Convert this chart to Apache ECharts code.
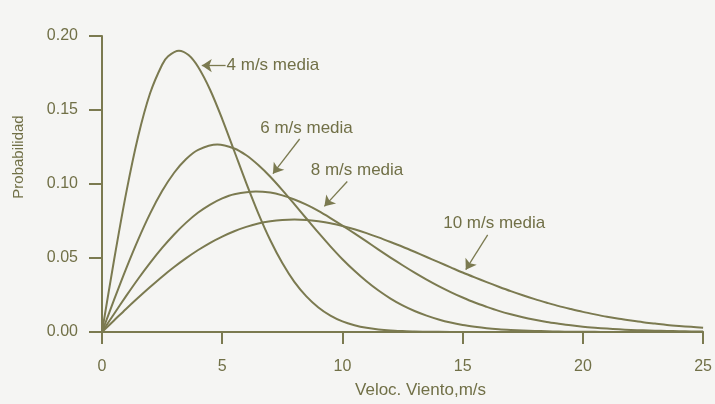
<!DOCTYPE html>
<html>
<head>
<meta charset="utf-8">
<script src="https://cdn.jsdelivr.net/npm/echarts@6/dist/echarts.min.js"></script>
<style>
html,body{margin:0;padding:0;background:#f5f5f3;}
#c{width:715px;height:404px;}
</style>
</head>
<body>
<div id="c"></div>
<script>
// Wind speed samples (m/s) for each curve, and the probability read at each sample
var speeds4  = [0,0.5,1,1.5,2,2.5,2.75,3.2,3.6,4,4.5,5,5.5,6,6.5,7,7.5,8,8.5,9,9.5,10,10.5,11,11.5,12,12.5,13,13.5,14,15,20,25];
var media4   = [0,0.0485,0.0935,0.1319,0.1613,0.1806,0.1863,0.1901,0.1871,0.1790,0.1635,0.1439,0.1223,0.1006,0.0802,0.0620,0.0466,
                0.0339,0.0241,0.0166,0.0111,0.0072,0.0046,0.0028,0.0017,0.0010,0.0006,0.0003,0.0002,0.0001,0,0,0];
var speeds6  = [0,0.5,1,1.5,2,2.5,3,3.5,4,4.8,5.5,6,6.5,7,7.5,8,8.5,9,9.5,10,10.5,11,11.5,12,12.5,13,13.5,14,14.5,
                15,15.5,16,16.5,17,17.5,18,18.5,19,19.5,20,20.5,21,25];
var media6   = [0,0.0217,0.0427,0.0623,0.0800,0.0952,0.1076,0.1169,0.1231,0.1267,0.1240,0.1194,0.1128,0.1049,0.0959,
                0.0864,0.0767,0.0671,0.0579,0.0492,0.0414,0.0343,0.0280,0.0226,0.0180,0.0142,0.0111,0.0085,0.0064,
                0.0048,0.0036,0.0026,0.0019,0.0014,0.0010,0.0007,0.0005,0.0003,0.0002,0.0001,0.0001,0,0];
var speeds8  = [0,0.5,1,1.5,2,2.5,3,3.5,4,4.5,5,5.5,6.4,7,7.5,8,8.5,9,9.5,10,10.5,11,11.5,12,12.5,13,13.5,14,14.5,
                15,15.5,16,16.5,17,17.5,18,18.5,19,19.5,20,20.5,21,21.5,22,22.5,23,23.5,24,24.5,25];
var media8   = [0,0.0122,0.0242,0.0358,0.0467,0.0568,0.0659,0.0739,0.0807,0.0861,0.0903,0.0931,0.0950,0.0942,0.0923,
                0.0895,0.0860,0.0818,0.0770,0.0719,0.0666,0.0612,0.0557,0.0503,0.0451,0.0401,0.0354,0.0310,0.0270,
                0.0233,0.0199,0.0170,0.0143,0.0120,0.0100,0.0083,0.0068,0.0056,0.0045,0.0036,0.0029,0.0023,0.0018,
                0.0014,0.0011,0.0009,0.0007,0.0005,0.0004,0.0003];
var speeds10 = [0,0.5,1,1.5,2,2.5,3,3.5,4,4.5,5,5.5,6,6.5,7,7.5,8,8.5,9,9.5,10,10.5,11,11.5,12,12.5,13,13.5,14,14.5,
                15,15.5,16,16.5,17,17.5,18,18.5,19,19.5,20,20.5,21,21.5,22,22.5,23,23.5,24,24.5,25];
var media10  = [0,0.0078,0.0156,0.0231,0.0304,0.0374,0.0439,0.0499,0.0554,0.0603,0.0645,0.0681,0.0710,0.0733,0.0748,
                0.0757,0.0760,0.0757,0.0748,0.0735,0.0716,0.0694,0.0668,0.0639,0.0608,0.0576,0.0542,0.0507,0.0472,
                0.0437,0.0402,0.0369,0.0337,0.0306,0.0276,0.0248,0.0222,0.0198,0.0175,0.0155,0.0136,0.0119,0.0103,
                0.0089,0.0077,0.0066,0.0057,0.0048,0.0041,0.0035,0.0029];
var yTicks = [0, 0.05, 0.10, 0.15, 0.20];
var xTicks = [0, 5, 10, 15, 20, 25];
var labels = ['4 m/s media','6 m/s media','8 m/s media','10 m/s media'];
// annotation anchors (data coords): text position, arrow start, arrow tip
var labelPos   = [[5.18,0.180],[6.58,0.1378],[8.68,0.109],[14.19,0.0736]];
var arrowStart = [[5.14,0.180],[8.22,0.1304],[10.20,0.1017],[16.04,0.0656]];
var arrowTip   = [[4.15,0.180],[7.11,0.107],[9.25,0.0849],[15.13,0.0421]];

var lineCol = '#7b7a50';
var textCol = '#717047';
var font = 'Liberation Sans, Arial, sans-serif';

function pairs(xs, ys){ return xs.map(function(s,i){ return [s, ys[i]]; }); }
var curves = [[speeds4, media4], [speeds6, media6], [speeds8, media8], [speeds10, media10]];
var series = curves.map(function(c, k){
  return {
    type:'line', data: pairs(c[0], c[1]), smooth:0.3, showSymbol:false, symbol:'none',
    lineStyle:{color:lineCol, width:2, join:'round'}, silent:true, z:3,
    markLine:{
      silent:true, symbol:['none','arrow'], symbolSize:10,
      lineStyle:{color:lineCol, width:1.3, type:'solid'},
      itemStyle:{color:lineCol},
      label:{show:false},
      data:[[{coord:arrowStart[k]},{coord:arrowTip[k]}]]
    },
    markPoint:{
      silent:true, symbol:'circle', symbolSize:0,
      label:{show:true, position:'right', distance:0, formatter:labels[k],
        color:textCol, fontSize:17, fontFamily:font},
      data:[{coord:labelPos[k]}]
    }
  };
});

var chart = echarts.init(document.getElementById('c'), null, {renderer:'canvas'});
chart.setOption({
  backgroundColor:'#f5f5f3',
  animation:false,
  grid:{left:102, right:5, top:36, bottom:69, containLabel:false},
  xAxis:{
    type:'value', min:xTicks[0], max:xTicks[xTicks.length-1], interval:5,
    name:'Veloc. Viento,m/s', nameLocation:'middle', nameGap:50,
    nameTextStyle:{color:textCol, fontSize:17, fontFamily:font, padding:[0,0,0,36]},
    axisLine:{show:true, onZero:false, lineStyle:{color:lineCol, width:2}},
    axisTick:{show:true, inside:false, length:12, lineStyle:{color:lineCol, width:2}},
    axisLabel:{color:textCol, fontSize:16, fontFamily:font, margin:27},
    splitLine:{show:false}
  },
  yAxis:{
    type:'value', min:yTicks[0], max:yTicks[yTicks.length-1], interval:0.05,
    name:'Probabilidad', nameLocation:'middle', nameGap:76,
    nameTextStyle:{color:textCol, fontSize:15, fontFamily:font, padding:[0,0,0,54]},
    axisLine:{show:true, onZero:false, lineStyle:{color:lineCol, width:2}},
    axisTick:{show:true, inside:false, length:13, lineStyle:{color:lineCol, width:2}},
    axisLabel:{color:textCol, fontSize:16, fontFamily:font, margin:24,
      formatter:function(v){ return v.toFixed(2); }},
    splitLine:{show:false}
  },
  series: series
});
</script>
</body>
</html>
